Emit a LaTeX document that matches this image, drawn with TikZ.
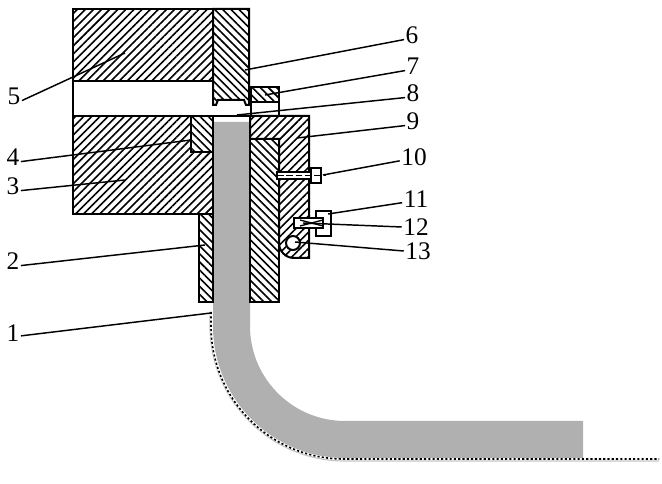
\documentclass[tikz,border=0pt]{standalone}
\usepackage{amsmath}
\usepackage{fontspec}
\setmainfont{Liberation Serif}
\usetikzlibrary{patterns.meta}

\tikzset{
	part/.style = {line width = 1.5pt, line join = miter},
	hatchR/.style = {part, pattern = {Lines[angle = 45, distance = 4.3pt, line width = 1.2pt]}},
	hatchL/.style = {part, pattern = {Lines[angle = -45, distance = 4.3pt, line width = 1.2pt]}},
	plainpart/.style = {part, fill = white},
	leader/.style = {line width = 1.1pt},
	num/.style = {font = \fontsize{19}{19}\selectfont, inner sep = 1pt}
}

\begin{document}
\begin{tikzpicture}[x = 0.75pt, y = -0.75pt]
	\useasboundingbox (0,0) rectangle (662,484);
	% strip
	\fill [gray!62] (213,122) -- (250,122) -- (250,326) arc (180:90:95) -- (583,421) -- (583,458) -- (345,458) arc (90:180:132) -- cycle;
	\draw [gray!45, line width = 0.9pt] (210,315) -- (210,326) arc (180:90:135) -- (659,461);
	\draw [white, line width = 1.2pt] (211,312) -- (211,326) arc (180:90:133) -- (659,459);
	\draw [line width = 1.2pt, dash pattern = on 1.6pt off 1.6pt] (211,312) -- (211,326) arc (180:90:133) -- (659,459);
	% upper block and punch
	\draw [hatchR] (73,9) -- (213,9) -- (213,81) -- (73,81) -- cycle;
	\draw [hatchL] (213,9) -- (249,9) -- (249,105) -- (246,105) -- (244,100) -- (218,100) -- (216,105) -- (213,105) -- cycle;
	\draw [part] (73,81) -- (73,116);
	% lower block
	\draw [hatchR] (73,116) -- (191,116) -- (191,152) -- (213,152) -- (213,214) -- (73,214) -- cycle;
	\draw [hatchL] (191,116) -- (213,116) -- (213,152) -- (191,152) -- cycle;
	\draw [part] (213,116) -- (250,116);
	% holder
	\draw [hatchL] (199,214) -- (213,214) -- (213,302) -- (199,302) -- cycle;
	\draw [hatchL] (250,139) -- (279,139) -- (279,302) -- (250,302) -- cycle;
	\draw [part] (213,122) -- (213,302);
	% clamp
	\draw [hatchR] (250,116) -- (309,116) -- (309,258) -- (294,258) arc (90:180:15) -- (279,139) -- (250,139) -- cycle;
	\draw [plainpart] (293,243) circle (7);
	% small block
	\draw [hatchL] (251,87) -- (279,87) -- (279,102) -- (251,102) -- cycle;
	\draw [part, line width = 1.1pt] (251,102) -- (251,116) (279,102) -- (279,116);
	% bolt
	\draw [plainpart, line width = 1.2pt] (277,172) rectangle (311,179);
	\draw [line width = 0.7pt, dash pattern = on 5pt off 2pt] (277,175.5) -- (326,175.5);
	\draw [part, line width = 1.3pt] (311,168) rectangle (321,183);
	% tension screw
	\draw [plainpart, line width = 1.3pt] (316,211) rectangle (331,236);
	\draw [plainpart, line width = 1.3pt] (294,218) rectangle (323,228);
	\draw [line width = 1pt] (300,220) -- (323,226) (300,226) -- (323,220);
	% labels
	\node [num] (lab6) at (412,35) {6};
	\node [num] (lab7) at (413,66) {7};
	\node [num] (lab8) at (413,93) {8};
	\node [num] (lab9) at (413,121) {9};
	\node [num] (lab10) at (414,157) {10};
	\node [num] (lab11) at (416,199) {11};
	\node [num] (lab12) at (416,227) {12};
	\node [num] (lab13) at (418,251) {13};
	\node [num] (lab5) at (14,96) {5};
	\node [num] (lab4) at (13,157) {4};
	\node [num] (lab3) at (13,186) {3};
	\node [num] (lab2) at (13,261) {2};
	\node [num] (lab1) at (13,333) {1};
	% leader ends
	\coordinate (end6) at (245,70);
	\coordinate (end7) at (265,95);
	\coordinate (end8) at (237,115);
	\coordinate (end9) at (297,138);
	\coordinate (end10) at (323,175);
	\coordinate (end11) at (328,214);
	\coordinate (end12) at (303,223);
	\coordinate (end13) at (295,242);
	\coordinate (end5) at (125,53);
	\coordinate (end4) at (191,140);
	\coordinate (end3) at (125,180);
	\coordinate (end2) at (205,245);
	\coordinate (end1) at (211,313);
	\draw [leader] (lab6.210) -- (end6);
	\draw [leader] (lab7.210) -- (end7);
	\draw [leader] (lab8.210) -- (end8);
	\draw [leader] (lab9.210) -- (end9);
	\draw [leader] (lab10.195) -- (end10);
	\draw [leader] (lab11.195) -- (end11);
	\draw [leader] (lab12.180) -- (end12);
	\draw [leader] (lab13.180) -- (end13);
	\draw [leader] (lab5.-30) -- (end5);
	\draw [leader] (lab4.-30) -- (end4);
	\draw [leader] (lab3.-30) -- (end3);
	\draw [leader] (lab2.-30) -- (end2);
	\draw [leader] (lab1.-20) -- (end1);
\end{tikzpicture}
\end{document}
